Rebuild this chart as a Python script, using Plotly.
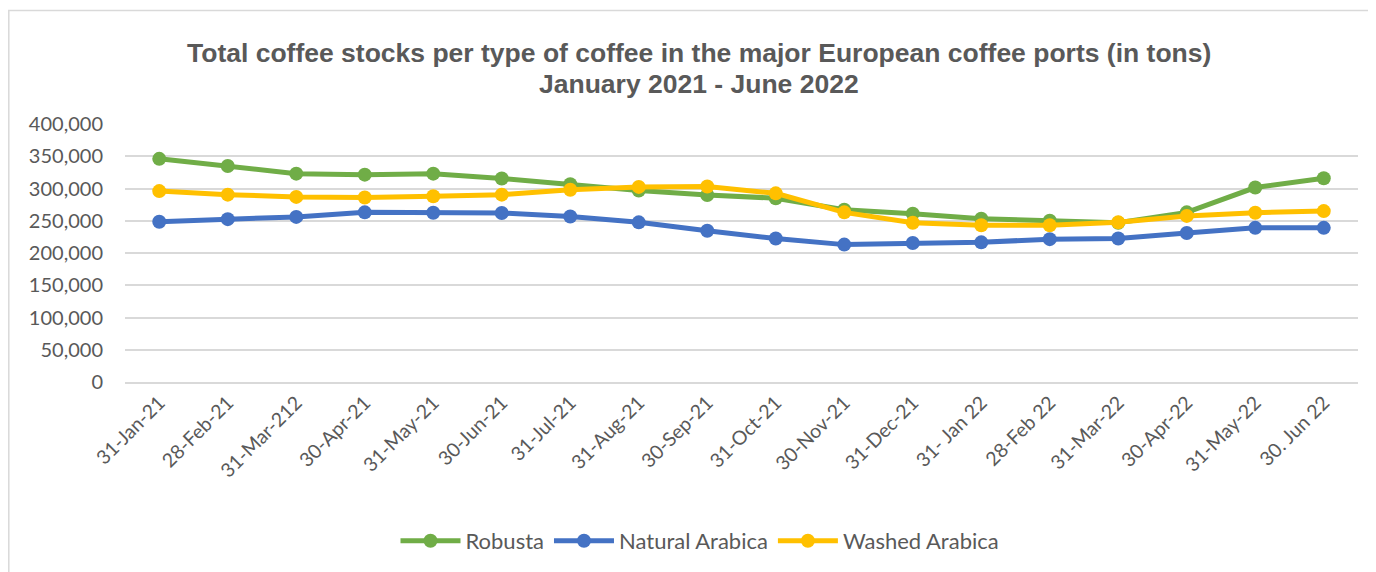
import plotly.graph_objects as go

categories = ["31-Jan-21", "28-Feb-21", "31-Mar-212", "30-Apr-21", "31-May-21", "30-Jun-21",
              "31-Jul-21", "31-Aug-21", "30-Sep-21", "31-Oct-21", "30-Nov-21", "31-Dec-21",
              "31- Jan 22", "28-Feb 22", "31-Mar-22", "30-Apr-22", "31-May-22", "30. Jun 22"]

robusta = [346000, 335000, 323000, 321500, 323000, 315500, 306500, 297000, 290000, 285000,
           267000, 261000, 253000, 250000, 247000, 263000, 301500, 316000]
natural_arabica = [248500, 252500, 256000, 263000, 262500, 262000, 256500, 247500, 234500, 222500,
                   213000, 215500, 216500, 221500, 222500, 231000, 239000, 239000]
washed_arabica = [296000, 290500, 287000, 286000, 288000, 290500, 298000, 302500, 303000, 292500,
                  263000, 247000, 243000, 243000, 247500, 257500, 262500, 265000]

series = [("Robusta", robusta, "#70AD47"),
          ("Natural Arabica", natural_arabica, "#4472C4"),
          ("Washed Arabica", washed_arabica, "#FFC000")]

tick_vals = [0, 50000, 100000, 150000, 200000, 250000, 300000, 350000, 400000]
tick_text = ["0", "50,000", "100,000", "150,000", "200,000", "250,000", "300,000", "350,000", "400,000"]

fig = go.Figure()
for name, vals, col in series:
    fig.add_trace(go.Scatter(x=categories, y=vals, name=name, mode="lines+markers",
                             line=dict(color=col, width=5),
                             marker=dict(color=col, size=14)))

# page body has an 8px offset; figure sized to fit the viewport
OFF = 8
W, H = 1376 - OFF, 572 - OFF
ml, mr, mt, mb = 125 - OFF, 18, 124 - OFF, H - (383 - OFF)
pw, ph = W - ml - mr, H - mt - mb

def px_x(p):
    return (p - OFF - ml) / pw

def px_y(p):
    return (H - mb - (p - OFF)) / ph

grid = "#D9D9D9"
txt = "#595959"

fig.update_layout(
    width=W, height=H,
    margin=dict(l=ml, r=mr, t=mt, b=mb),
    paper_bgcolor="white", plot_bgcolor="white",
    font=dict(family="Lato, Open Sans, sans-serif", color=txt, size=20),
    showlegend=True,
    legend=dict(orientation="h", x=px_x(700), xanchor="center", y=px_y(541), yanchor="middle",
                font=dict(size=22, color=txt), itemwidth=60, traceorder="normal"),
    xaxis=dict(type="category", range=[-0.5, len(categories) - 0.5], tickangle=-45,
               showgrid=False, showline=True, linecolor=grid, linewidth=1.5,
               ticks="", tickfont=dict(size=19.5, color=txt)),
    yaxis=dict(range=[0, 400000], tickvals=tick_vals, ticktext=tick_text,
               showgrid=True, gridcolor=grid, gridwidth=1.5, zeroline=False,
               showline=False, ticks="", ticklabelstandoff=21,
               tickfont=dict(size=20, color=txt)),
    annotations=[
        dict(text="<b>Total coffee stocks per type of coffee in the major European coffee ports (in tons)</b>",
             xref="paper", yref="paper", x=px_x(699), y=px_y(53), xanchor="center", yanchor="middle",
             showarrow=False, font=dict(family="Liberation Sans, Arial", size=26.5, color=txt)),
        dict(text="<b>January 2021 - June 2022</b>",
             xref="paper", yref="paper", x=px_x(699), y=px_y(84), xanchor="center", yanchor="middle",
             showarrow=False, font=dict(family="Liberation Sans, Arial", size=26.5, color=txt)),
    ],
    shapes=[dict(type="rect", xref="paper", yref="paper",
                 x0=px_x(8.8), x1=px_x(1400), y0=px_y(600), y1=px_y(10),
                 line=dict(color=grid, width=1.5), fillcolor="rgba(0,0,0,0)", layer="below")],
)

fig.write_html("out.html")
